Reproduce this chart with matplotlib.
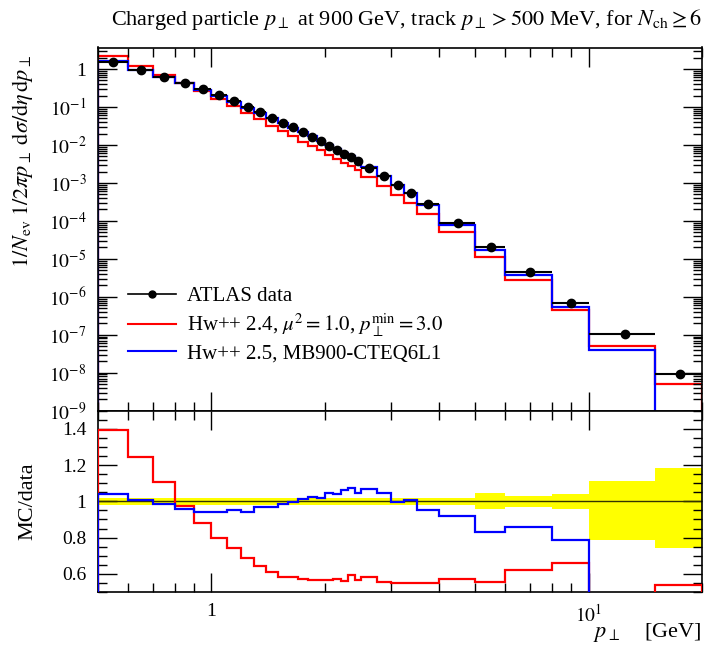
import numpy as np
import matplotlib
matplotlib.use('Agg')
from matplotlib import pyplot as plt
from matplotlib.lines import Line2D
from matplotlib.ticker import (LogLocator, FixedLocator, MultipleLocator,
                               FuncFormatter, NullFormatter)

plt.rcParams['font.family'] = ['Liberation Serif', 'DejaVu Serif']
plt.rcParams['mathtext.fontset'] = 'stix'

# bin edges in pT [GeV]
BIN_EDGES = [0.5, 0.6, 0.7, 0.8, 0.9, 1.0, 1.1, 1.2, 1.3, 1.4, 1.5,
             1.6, 1.7, 1.8, 1.9, 2.0, 2.1, 2.2, 2.3, 2.4, 2.5,
             2.75, 3.0, 3.25, 3.5, 4.0, 5.0, 6.0, 8.0, 10.0, 15.0, 20.0]

ATLAS_DATA = [1.55, 0.94, 0.63, 0.436, 0.30, 0.207, 0.141, 0.102, 0.074, 0.052,
              0.039, 0.029, 0.0215, 0.0166, 0.0128, 0.0096, 0.0074, 0.0058, 0.0048, 0.0038,
              2.45e-3, 1.48e-3, 8.9e-4, 5.4e-4, 2.8e-4, 8.7e-5, 2.0e-5, 4.4e-6, 6.8e-7,
              1.07e-7, 9.4e-9]

# relative data uncertainty (yellow band)
DATA_ERR_UP = [0.02] * 26 + [0.048, 0.032, 0.04, 0.114, 0.182]
DATA_ERR_DN = [0.02] * 26 + [0.041, 0.032, 0.04, 0.215, 0.257]

RATIO_HW24 = [1.396, 1.246, 1.107, 0.974, 0.878, 0.80, 0.743, 0.687, 0.646, 0.613,
              0.585, 0.582, 0.572, 0.567, 0.567, 0.567, 0.571, 0.563, 0.596, 0.567,
              0.582, 0.554, 0.552, 0.548, 0.548, 0.572, 0.554, 0.62, 0.661, 0.46, 0.54]

RATIO_HW25 = [1.039, 1.006, 0.987, 0.959, 0.941, 0.941, 0.95, 0.943, 0.968, 0.968,
              0.987, 0.996, 1.011, 1.024, 1.02, 1.048, 1.039, 1.063, 1.076, 1.044,
              1.07, 1.048, 0.998, 1.005, 0.95, 0.918, 0.831, 0.859, 0.785, 0.38, 0.0]

LABEL_DATA = "ATLAS data"
LABEL_HW24 = r"Hw++ 2.4, $\mu^2 = 1.0$, $p_\perp^\mathrm{min} = 3.0$"
LABEL_HW25 = "Hw++ 2.5, MB900-CTEQ6L1"

edges = np.array(BIN_EDGES)
data = np.array(ATLAS_DATA)
centres = 0.5 * (edges[:-1] + edges[1:])
half_w = 0.5 * (edges[1:] - edges[:-1])
err_up = np.array(DATA_ERR_UP)
err_dn = np.array(DATA_ERR_DN)
hw24 = data * np.array(RATIO_HW24)
hw25 = data * np.array(RATIO_HW25)

fig = plt.figure(figsize=(7.15, 6.48), dpi=100)
W, H = 715.0, 648.0
left, right = 97.7 / W, 702.3 / W
ax = fig.add_axes([left, 1 - 410.7 / H, right - left, (410.7 - 47.5) / H])
rax = fig.add_axes([left, 1 - 592.0 / H, right - left, (592.0 - 410.7) / H], sharex=ax)

# main panel
ax.stairs(np.where(hw24 > 0, hw24, 1e-12), edges, color='red', lw=1.6)
ax.stairs(np.where(hw25 > 0, hw25, 1e-12), edges, color='blue', lw=1.6)
ax.errorbar(centres, data, xerr=half_w, yerr=[data * err_dn, data * err_up],
            fmt='o', color='black', ms=6, elinewidth=1.5, capsize=0, zorder=5)

ax.set_xscale('log')
ax.set_yscale('log')
ax.set_xlim(0.5, 20)
ax.set_ylim(1e-9, 3.7)


def log_label(val, _pos):
    exp = int(round(np.log10(val)))
    return "1" if exp == 0 else r"$10^{%d}$" % exp


ax.yaxis.set_major_locator(LogLocator(base=10, numticks=20))
ax.yaxis.set_minor_locator(LogLocator(base=10, subs=np.arange(2, 10), numticks=20))
ax.yaxis.set_major_formatter(FuncFormatter(log_label))
ax.yaxis.set_minor_formatter(NullFormatter())

handles = [Line2D([], [], color='black', lw=1.2, marker='o', ms=5),
           Line2D([], [], color='red', lw=1.5),
           Line2D([], [], color='blue', lw=1.5)]
ax.legend(handles, [LABEL_DATA, LABEL_HW24, LABEL_HW25], loc='upper left',
          bbox_to_anchor=(0.05, 0.342), frameon=False, fontsize=15, borderpad=0,
          borderaxespad=0, handlelength=2.3, handletextpad=0.55, labelspacing=0.26)

# ratio panel
rax.fill_between(edges, np.append(1 - err_dn, 1 - err_dn[-1]),
                 np.append(1 + err_up, 1 + err_up[-1]), step='post',
                 color='#ffff00', lw=0, zorder=1)
rax.axhline(1.0, color='#333300', lw=1.0, zorder=2)
rax.stairs(RATIO_HW24, edges, color='red', lw=1.6, zorder=3)
rax.stairs(RATIO_HW25, edges, color='blue', lw=1.6, zorder=3)
rax.set_ylim(0.5, 1.5)
rax.yaxis.set_major_locator(FixedLocator([0.6, 0.8, 1.0, 1.2, 1.4]))
rax.yaxis.set_major_formatter(FuncFormatter(lambda v, _p: "%g" % v))
rax.yaxis.set_minor_locator(MultipleLocator(0.05))

rax.xaxis.set_major_locator(FixedLocator([1, 10]))
rax.xaxis.set_major_formatter(FuncFormatter(lambda v, _p: "1" if v == 1 else r"$10^{1}$"))
rax.xaxis.set_minor_locator(LogLocator(base=10, subs=np.arange(2, 10), numticks=20))
rax.xaxis.set_minor_formatter(NullFormatter())

for axis in (ax, rax):
    axis.tick_params(which='both', direction='in', top=True, right=True, width=1.0,
                     labelsize=14, color='black')
    axis.tick_params(which='major', length=13.5, pad=8)
    axis.tick_params(which='minor', length=6.5)
    for spine in axis.spines.values():
        spine.set_linewidth(1.2)
ax.tick_params(axis='x', which='both', labelbottom=False)

fig.text(23 / W, 1 - 55 / H,
         r"$1/N_\mathrm{ev}\;1/2\pi p_\perp\;\mathrm{d}\sigma/\mathrm{d}\eta\,\mathrm{d}p_\perp$",
         rotation=90, ha='center', va='top', fontsize=16)
fig.text(28 / W, 1 - 501.5 / H, "MC/data", rotation=90, ha='center', va='center',
         fontsize=16)
fig.text(702 / W, 1 - 632 / H, r"$p_\perp$    [GeV]", ha='right', va='center', fontsize=16)
fig.text(702 / W, 1 - 20 / H,
         r"Charged particle $p_\perp$ at 900 GeV, track $p_\perp > 500$ MeV, for $N_\mathrm{ch} \geq 6$",
         ha='right', va='center', fontsize=16)

fig.savefig("out.png", dpi=100)
